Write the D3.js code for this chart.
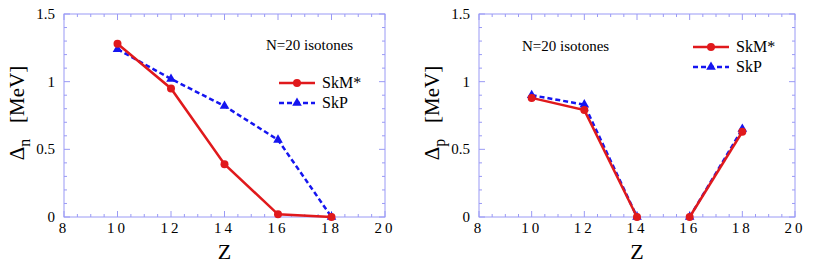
<!DOCTYPE html>
<html>
<head>
<meta charset="utf-8">
<script src="https://cdn.jsdelivr.net/npm/d3@7"></script>
<style>
  body { margin: 0; background: #fff; }
</style>
</head>
<body>
<script>
// chart values
var zValues = [10, 12, 14, 16, 18];
var gapN_skm = [1.28, 0.95, 0.39, 0.02, 0.0];
var gapN_skp = [1.24, 1.02, 0.82, 0.57, 0.0];
var gapP_skm = [0.88, 0.79, 0.0, 0.0, 0.63];
var gapP_skp = [0.90, 0.83, 0.0, 0.0, 0.65];
// line is broken after these indices (right panel has no segment 14 -> 16)
var breaksN = [];
var breaksP = [2];
var xTicks = [8, 10, 12, 14, 16, 18, 20];
var yTicks = [0, 0.5, 1, 1.5];
var seriesNames = ["SkM*", "SkP"];

var W = 831, H = 266;
var FONT = "Liberation Serif";
var svg = d3.select("body").append("svg")
  .attr("width", W)
  .attr("height", H);

var frameColor = "#9a9af5";

function txt(sel) {
  return sel.append("text").attr("font-family", FONT);
}

function panel(opts) {
  var x = d3.scaleLinear().domain([8, 20]).range([opts.left, opts.right]);
  var y = d3.scaleLinear().domain([0, 1.5]).range([217, 14]);
  var g = svg.append("g");

  // frame
  g.append("rect")
    .attr("x", x(8)).attr("y", y(1.5))
    .attr("width", x(20) - x(8)).attr("height", y(0) - y(1.5))
    .attr("fill", "none").attr("stroke", frameColor).attr("stroke-width", 1);

  // inward ticks, all four sides
  var xMinor = d3.range(8, 20.001, 0.5);
  xMinor.forEach(function(v) {
    var len = (v % 2 === 0) ? 6 : 3;
    g.append("line").attr("x1", x(v)).attr("x2", x(v))
      .attr("y1", y(0)).attr("y2", y(0) - len)
      .attr("stroke", frameColor);
    g.append("line").attr("x1", x(v)).attr("x2", x(v))
      .attr("y1", y(1.5)).attr("y2", y(1.5) + len)
      .attr("stroke", frameColor);
  });
  var yMinor = d3.range(0, 1.5001, 0.1);
  yMinor.forEach(function(v, i) {
    var len = (i % 5 === 0) ? 6 : 3;
    g.append("line").attr("x1", x(8)).attr("x2", x(8) + len)
      .attr("y1", y(v)).attr("y2", y(v))
      .attr("stroke", frameColor);
    g.append("line").attr("x1", x(20)).attr("x2", x(20) - len)
      .attr("y1", y(v)).attr("y2", y(v))
      .attr("stroke", frameColor);
  });

  // tick labels
  xTicks.forEach(function(d) {
    txt(g).attr("x", x(d)).attr("y", 233)
      .attr("text-anchor", "middle")
      .attr("font-size", 15)
      .style("letter-spacing", "3px")
      .text(d);
  });
  yTicks.forEach(function(d) {
    txt(g).attr("x", x(8) - 9).attr("y", y(d) + 5)
      .attr("text-anchor", "end")
      .attr("font-size", 15)
      .text(d);
  });

  // axis titles
  txt(g)
    .attr("x", (x(8) + x(20)) / 2)
    .attr("y", 259)
    .attr("text-anchor", "middle")
    .attr("font-size", 22)
    .text("Z");
  var yt = txt(g)
    .attr("transform", "translate(" + (x(8) - 40) + "," + 113 + ") rotate(-90)")
    .attr("text-anchor", "middle")
    .attr("font-size", 21)
    .style("white-space", "pre");
  yt.append("tspan").text("\u0394");
  yt.append("tspan").attr("dy", 6).attr("font-size", 16).text(opts.sub);
  yt.append("tspan").attr("dy", -6).text("   [MeV]");

  // series
  function draw(vals, breaks, color, dash, shape) {
    var pts = zValues.map(function(z, i) { return {z: z, v: vals[i], i: i}; });
    var segs = [], cur = [];
    pts.forEach(function(p) {
      cur.push(p);
      if (breaks.indexOf(p.i) >= 0) { segs.push(cur); cur = []; }
    });
    if (cur.length) segs.push(cur);
    var line = d3.line().x(function(d) { return x(d.z); }).y(function(d) { return y(d.v); });
    segs.forEach(function(s) {
      g.append("path").attr("d", line(s))
        .attr("fill", "none").attr("stroke", color)
        .attr("stroke-width", 2.5)
        .attr("stroke-dasharray", dash);
    });
    pts.forEach(function(p) {
      g.append("path")
        .attr("d", d3.symbol().type(shape).size(shape === d3.symbolCircle ? 50 : 40)())
        .attr("transform", "translate(" + x(p.z) + "," + y(p.v) + ")")
        .attr("fill", color);
    });
  }
  draw(opts.skp, opts.breaks, "#1515f0", "5,3", d3.symbolTriangle);
  draw(opts.skm, opts.breaks, "#e0191c", null, d3.symbolCircle);

  // annotation
  txt(g)
    .attr("x", opts.noteX).attr("y", opts.noteY)
    .attr("font-size", 15)
    .text("N=20 isotones");

  // legend
  var legColors = ["#e0191c", "#1515f0"];
  var legDash = [null, "5,3"];
  var legShape = [d3.symbolCircle, d3.symbolTriangle];
  seriesNames.forEach(function(name, i) {
    var ly = opts.legY + i * 20;
    g.append("line")
      .attr("x1", opts.legX).attr("x2", opts.legX + 36)
      .attr("y1", ly).attr("y2", ly)
      .attr("stroke", legColors[i]).attr("stroke-width", 2.5)
      .attr("stroke-dasharray", legDash[i]);
    g.append("path")
      .attr("d", d3.symbol().type(legShape[i]).size(i === 0 ? 50 : 40)())
      .attr("transform", "translate(" + (opts.legX + 18) + "," + ly + ")")
      .attr("fill", legColors[i]);
    txt(g)
      .attr("x", opts.legX + 43).attr("y", ly + 5)
      .attr("font-size", 16)
      .text(name);
  });
}

panel({left: 64, right: 385, sub: "n", skm: gapN_skm, skp: gapN_skp, breaks: breaksN,
       noteX: 266, noteY: 50, legX: 279, legY: 83});
panel({left: 479, right: 795, sub: "p", skm: gapP_skm, skp: gapP_skp, breaks: breaksP,
       noteX: 522, noteY: 51, legX: 693, legY: 47});
</script>
</body>
</html>
